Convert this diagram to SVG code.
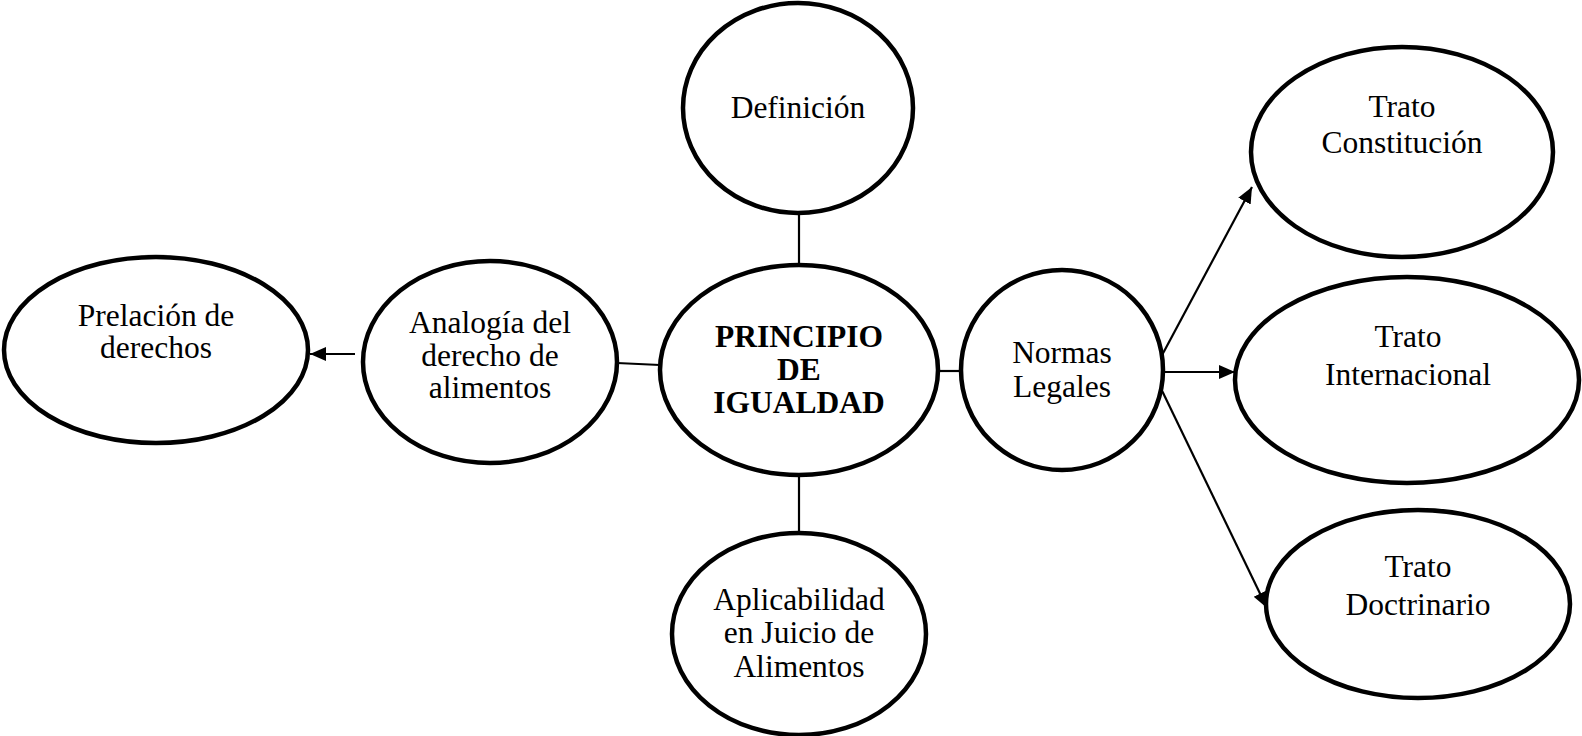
<svg xmlns="http://www.w3.org/2000/svg" width="1582" height="736" viewBox="0 0 1582 736">
<style>
.n{fill:#fff;stroke:#000;stroke-width:4.5}
.t{font-family:"Liberation Serif","Times New Roman",serif;font-size:31.5px;fill:#000;text-anchor:middle}
.b{font-weight:bold}
.c{stroke:#000;stroke-width:2.2;fill:none}
</style>
<defs>
<marker id="ah" markerUnits="userSpaceOnUse" markerWidth="18" markerHeight="16" refX="16" refY="7" orient="auto">
<path d="M0,0 L16,7 L0,14 z" fill="#000"/>
</marker>
</defs>
<rect width="1582" height="736" fill="#fff"/>
<g id="connectors">
<line class="c" x1="799" y1="213" x2="799" y2="265"/>
<line class="c" x1="799" y1="475" x2="799" y2="533"/>
<line class="c" x1="617" y1="363" x2="660" y2="365"/>
<line class="c" x1="938" y1="371" x2="960" y2="371"/>
<line class="c" x1="355" y1="354" x2="310" y2="354" marker-end="url(#ah)"/>
<line class="c" x1="1153" y1="372" x2="1252" y2="187" marker-end="url(#ah)"/>
<line class="c" x1="1153" y1="372" x2="1235" y2="372" marker-end="url(#ah)"/>
<line class="c" x1="1153" y1="372" x2="1267" y2="608" marker-end="url(#ah)"/>
</g>
<g id="definicion">
<ellipse class="n" cx="798" cy="108" rx="115" ry="105"/>
<text class="t" x="798" y="118">Definición</text>
</g>
<g id="principio">
<ellipse class="n" cx="799" cy="370" rx="139" ry="105"/>
<text class="t b" x="799" y="347">PRINCIPIO</text>
<text class="t b" x="799" y="380">DE</text>
<text class="t b" x="799" y="413">IGUALDAD</text>
</g>
<g id="aplicabilidad">
<ellipse class="n" cx="799" cy="634" rx="127" ry="101"/>
<text class="t" x="799" y="610">Aplicabilidad</text>
<text class="t" x="799" y="643">en Juicio de</text>
<text class="t" x="799" y="677">Alimentos</text>
</g>
<g id="analogia">
<ellipse class="n" cx="490" cy="362" rx="127" ry="101"/>
<text class="t" x="490" y="333">Analogía del</text>
<text class="t" x="490" y="366">derecho de</text>
<text class="t" x="490" y="398">alimentos</text>
</g>
<g id="prelacion">
<ellipse class="n" cx="156" cy="350" rx="152" ry="93"/>
<text class="t" x="156" y="326">Prelación de</text>
<text class="t" x="156" y="358">derechos</text>
</g>
<g id="normas">
<ellipse class="n" cx="1062" cy="370" rx="101" ry="100"/>
<text class="t" x="1062" y="363">Normas</text>
<text class="t" x="1062" y="397">Legales</text>
</g>
<g id="constitucion">
<ellipse class="n" cx="1402" cy="152" rx="151" ry="105"/>
<text class="t" x="1402" y="117">Trato</text>
<text class="t" x="1402" y="153">Constitución</text>
</g>
<g id="internacional">
<ellipse class="n" cx="1407" cy="380" rx="172" ry="103"/>
<text class="t" x="1408" y="347">Trato</text>
<text class="t" x="1408" y="385">Internacional</text>
</g>
<g id="doctrinario">
<ellipse class="n" cx="1418" cy="604" rx="152" ry="94"/>
<text class="t" x="1418" y="577">Trato</text>
<text class="t" x="1418" y="615">Doctrinario</text>
</g>
</svg>
